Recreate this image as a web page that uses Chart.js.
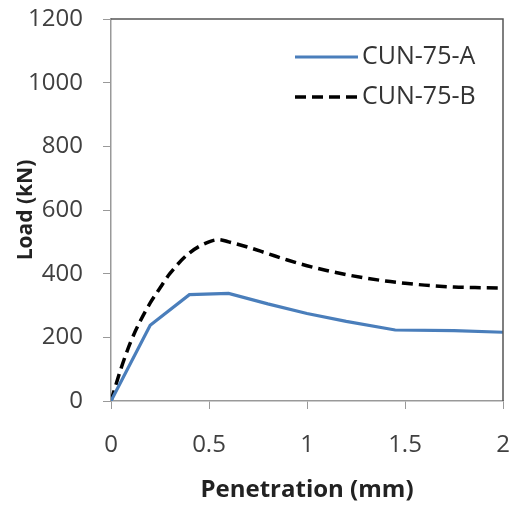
<!DOCTYPE html>
<html>
<head>
<meta charset="utf-8">
<script src="https://cdn.jsdelivr.net/npm/chart.js@4/dist/chart.umd.min.js"></script>
<style>
html,body{margin:0;padding:0;background:#fff;}
#wrap{width:518px;height:510px;position:relative;}
</style>
</head>
<body>
<div id="wrap"><canvas id="c" width="518" height="510"></canvas></div>
<script>
const seriesNames = ['CUN-75-A', 'CUN-75-B'];
const xTitle = 'Penetration (mm)';
const yTitle = 'Load (kN)';
const aX = [0, 0.2, 0.4, 0.6, 0.8, 1.0, 1.2, 1.45, 1.75, 2.0];
const aY = [0, 238, 334, 338, 305, 275, 250, 223, 221, 216];
const bX = [0, 0.05, 0.1, 0.15, 0.2, 0.25, 0.3, 0.4, 0.5, 0.55, 0.6, 0.7, 0.8, 0.9, 1.0, 1.1, 1.2, 1.3, 1.4, 1.5, 1.6, 1.75, 1.9, 2.0];
const bY = [0, 100, 185, 252, 308, 355, 400, 465, 500, 507, 500, 483, 463, 443, 425, 410, 397, 386, 377, 370, 364, 358, 356, 355];
const xTicks = [0, 0.5, 1, 1.5, 2];
const yTicks = [0, 200, 400, 600, 800, 1000, 1200];

const toPts = (xs, ys) => xs.map((x, i) => ({x: x, y: ys[i]}));
const FONT = '"Open Sans", "Noto Sans", sans-serif';

const legendPlugin = {
  id: 'customLegend',
  afterDraw(chart) {
    const ctx = chart.ctx;
    const ca = chart.chartArea;
    ctx.save();
    ctx.strokeStyle = '#555';
    ctx.lineWidth = 1.5;
    ctx.beginPath();
    ctx.moveTo(ca.left, ca.top);
    ctx.lineTo(ca.right, ca.top);
    ctx.lineTo(ca.right, ca.bottom);
    ctx.stroke();
    const rows = [57, 97];
    chart.data.datasets.forEach((ds, i) => {
      const y = rows[i];
      ctx.strokeStyle = ds.borderColor;
      ctx.lineWidth = ds.borderWidth;
      ctx.setLineDash(ds.borderDash || []);
      ctx.beginPath();
      ctx.moveTo(295, y);
      ctx.lineTo(358, y);
      ctx.stroke();
      ctx.setLineDash([]);
      ctx.fillStyle = '#333';
      ctx.font = '25px ' + FONT;
      ctx.textBaseline = 'middle';
      ctx.textAlign = 'left';
      ctx.fillText(ds.label, 362, y);
    });
    ctx.restore();
  }
};

new Chart(document.getElementById('c'), {
  type: 'line',
  data: {
    datasets: [
      {label: seriesNames[0], data: toPts(aX, aY), borderColor: '#4A7EBB', borderWidth: 3.2, pointRadius: 0, tension: 0, fill: false},
      {label: seriesNames[1], data: toPts(bX, bY), borderColor: '#000', borderWidth: 3.5, borderDash: [11, 6], pointRadius: 0, cubicInterpolationMode: 'monotone', fill: false}
    ]
  },
  options: {
    responsive: false,
    animation: false,
    devicePixelRatio: 1,
    layout: {padding: {top: 19, right: 15, left: 0, bottom: 0}},
    plugins: {legend: {display: false}, tooltip: {enabled: false}},
    scales: {
      x: {
        type: 'linear', min: 0, max: 2,
        afterBuildTicks: s => { s.ticks = xTicks.map(v => ({value: v})); },
        afterFit: s => { s.height = 109; s.paddingLeft = 0; s.paddingRight = 0; },
        ticks: {font: {family: FONT, size: 24}, color: '#404040', padding: 22, maxRotation: 0, callback: v => String(v)},
        grid: {drawOnChartArea: false, drawTicks: true, tickLength: 8, color: '#999'},
        border: {color: '#999', width: 1.5},
        title: {display: true, text: xTitle, font: {family: FONT, size: 24, weight: 'bold'}, color: '#222', padding: {top: 0, bottom: 5}}
      },
      y: {
        min: 0, max: 1200,
        afterBuildTicks: s => { s.ticks = yTicks.map(v => ({value: v})); },
        afterFit: s => { s.width = 111; s.paddingTop = 0; s.paddingBottom = 0; },
        ticks: {font: {family: FONT, size: 24}, color: '#404040', padding: 20, callback: v => String(v)},
        grid: {drawOnChartArea: false, drawTicks: true, tickLength: 8, color: '#999'},
        border: {color: '#999', width: 1.5},
        title: {display: true, text: yTitle, font: {family: FONT, size: 21, weight: 'bold'}, color: '#222', padding: {top: 13, bottom: 0}}
      }
    }
  },
  plugins: [legendPlugin]
});
</script>
</body>
</html>
